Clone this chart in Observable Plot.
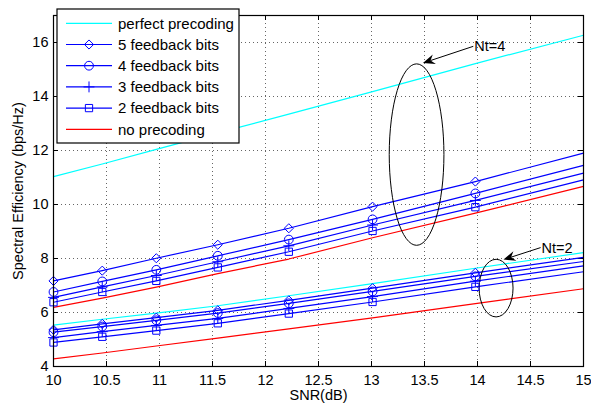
<!DOCTYPE html>
<html><head><meta charset="utf-8">
<script src="https://cdn.jsdelivr.net/npm/d3@7"></script>
<script src="https://cdn.jsdelivr.net/npm/@observablehq/plot@0.6"></script>
<style>
body{margin:0;background:#fff}
svg{font-family:"Liberation Sans",Arial,sans-serif}
</style>
</head><body><div id="chart"></div>
<script>
// ---- data ----
const snr = [10, 10.46, 10.97, 11.55, 12.22, 13.01, 13.98, 15];
const markerCount = 7; // markers drawn at the first 7 SNR points
const seriesNames = ["perfect precoding", "5 feedback bits", "4 feedback bits", "3 feedback bits", "2 feedback bits", "no precoding"];
const seriesColors = ["#00ffff", "#0000ff", "#0000ff", "#0000ff", "#0000ff", "#ff0000"];
const seriesSymbols = [null, "diamond2", "circle", "plus", "square", null];

// Nt = 4
const perfect4 = [11.03, 11.5, 12.04, 12.65, 13.35, 14.18, 15.22, 16.27];
const bits5_4  = [7.17, 7.55, 8.01, 8.51, 9.12, 9.92, 10.85, 11.9];
const bits4_4  = [6.76, 7.15, 7.58, 8.1, 8.7, 9.45, 10.41, 11.45];
const bits3_4  = [6.56, 6.95, 7.37, 7.88, 8.47, 9.24, 10.15, 11.16];
const bits2_4  = [6.38, 6.76, 7.17, 7.67, 8.25, 9.02, 9.9, 10.91];
const none4    = [6.19, 6.53, 6.94, 7.44, 7.98, 8.77, 9.68, 10.67];
// Nt = 2
const perfect2 = [5.53, 5.75, 5.98, 6.25, 6.62, 7.07, 7.64, 8.22];
const bits5_2  = [5.36, 5.58, 5.81, 6.08, 6.45, 6.9, 7.47, 8.04];
const bits4_2  = [5.27, 5.48, 5.71, 5.98, 6.34, 6.78, 7.34, 7.89];
const bits3_2  = [5.07, 5.29, 5.52, 5.78, 6.15, 6.59, 7.16, 7.73];
const bits2_2  = [4.89, 5.1, 5.33, 5.6, 5.96, 6.39, 6.95, 7.51];
const none2    = [4.28, 4.5, 4.76, 5.05, 5.39, 5.8, 6.33, 6.88];

const xTicks = [10, 10.5, 11, 11.5, 12, 12.5, 13, 13.5, 14, 14.5, 15];
const yTicks = [4, 6, 8, 10, 12, 14, 16];

// annotations (data coordinates)
const annLabels = ["Nt=4", "Nt=2"];
const annCx = [13.43, 14.18];
const annCy = [11.83, 6.885];
const annRx = [0.258, 0.16];
const annRy = [3.36, 1.067];
const arrowX1 = [13.965, 14.6];
const arrowY1 = [15.84, 8.385];
const arrowX2 = [13.49, 14.25];
const arrowY2 = [15.22, 7.94];

// ---- build rows ----
const groups = [
  [perfect4, bits5_4, bits4_4, bits3_4, bits2_4, none4],
  [perfect2, bits5_2, bits4_2, bits3_2, bits2_2, none2]
];
const rows = [];
groups.forEach((g, gi) => g.forEach((vals, si) => vals.forEach((v, i) => rows.push({
  key: gi + "-" + si, s: si, x: snr[i], y: v, idx: i
}))));

const W = 591, H = 403;
const mL = 53, mR = 8, mT = 15, mB = 37;
const frameH = H - mT - mB, frameW = W - mL - mR;
const FONT = 14.5;
const symR = s => s === "plus" ? 3.6 : s === "circle" ? 4.4 : 4.1;

const lineMarks = [];
for (let si = 0; si < 6; si++) {
  lineMarks.push(Plot.line(rows.filter(d => d.s === si), {x: "x", y: "y", z: "key", stroke: seriesColors[si], strokeWidth: 1.2}));
}
const dotMarks = [];
for (let si = 0; si < 6; si++) {
  if (!seriesSymbols[si]) continue;
  dotMarks.push(Plot.dot(rows.filter(d => d.s === si && d.idx < markerCount), {
    x: "x", y: "y", symbol: seriesSymbols[si], r: symR(seriesSymbols[si]),
    stroke: seriesColors[si], fill: "none", strokeWidth: 1
  }));
}

const annotations = (index, scales) => {
  const {x, y} = scales;
  const g = d3.create("svg:g");
  annLabels.forEach((lab, i) => {
    g.append("ellipse")
      .attr("cx", x(annCx[i])).attr("cy", y(annCy[i]))
      .attr("rx", x(annCx[i] + annRx[i]) - x(annCx[i]))
      .attr("ry", y(annCy[i] - annRy[i]) - y(annCy[i]))
      .attr("fill", "none").attr("stroke", "black").attr("stroke-width", 1);
    const sx = x(arrowX1[i]), sy = y(arrowY1[i]), tx = x(arrowX2[i]), ty = y(arrowY2[i]);
    const len = Math.hypot(tx - sx, ty - sy);
    const ux = (tx - sx) / len, uy = (ty - sy) / len, nx = -uy, ny = ux;
    const L = 12, Wd = 5, N = 8;
    g.append("line").attr("x1", sx).attr("y1", sy).attr("x2", tx - N * ux).attr("y2", ty - N * uy)
      .attr("stroke", "black").attr("stroke-width", 1);
    const pts = [[tx, ty], [tx - L * ux + Wd * nx, ty - L * uy + Wd * ny], [tx - N * ux, ty - N * uy], [tx - L * ux - Wd * nx, ty - L * uy - Wd * ny]];
    g.append("path").attr("d", "M" + pts.map(p => p.join(",")).join("L") + "Z").attr("fill", "black");
    g.append("text").attr("x", sx + 1).attr("y", sy).attr("dy", "0.35em")
      .attr("text-anchor", "start").style("text-anchor", "start")
      .attr("font-size", FONT).attr("fill", "black").text(lab);
  });
  return g.node();
};

const legend = () => {
  const g = d3.create("svg:g");
  const bx = 57, by = 9, bw = 182, bh = 134;
  g.append("rect").attr("x", bx).attr("y", by).attr("width", bw).attr("height", bh)
    .attr("fill", "white").attr("stroke", "black").attr("stroke-width", 1.2);
  seriesNames.forEach((name, i) => {
    const cy = 23.3 + i * 21.2;
    g.append("line").attr("x1", 66).attr("x2", 112).attr("y1", cy).attr("y2", cy)
      .attr("stroke", seriesColors[i]).attr("stroke-width", 1.2);
    if (seriesSymbols[i]) {
      const sym = {diamond2: d3.symbolDiamond2, circle: d3.symbolCircle, plus: d3.symbolPlus, square: d3.symbolSquare}[seriesSymbols[i]];
      const r = symR(seriesSymbols[i]);
      g.append("path").attr("d", d3.symbol(sym, Math.PI * r * r)())
        .attr("transform", `translate(89,${cy})`)
        .attr("fill", "none").attr("stroke", seriesColors[i]).attr("stroke-width", 1);
    }
    g.append("text").attr("x", 118).attr("y", cy).attr("dy", "0.35em")
      .attr("text-anchor", "start").style("text-anchor", "start")
      .attr("font-size", 15).attr("fill", "black").text(name);
  });
  return g.node();
};

const chart = Plot.plot({
  width: W, height: H,
  marginLeft: mL, marginRight: mR, marginTop: mT, marginBottom: mB,
  style: {fontFamily: '"Liberation Sans", Arial, sans-serif', fontSize: FONT + "px", background: "white", color: "black"},
  x: {domain: [10, 15]},
  y: {domain: [4, 17]},
  marks: [
    Plot.gridX(xTicks.slice(1, -1), {stroke: "black", strokeOpacity: 0.6, strokeDasharray: "1,3"}),
    Plot.gridY(yTicks.slice(1), {stroke: "black", strokeOpacity: 0.6, strokeDasharray: "1,3"}),
    Plot.axisX(xTicks, {tickSize: 0, tickPadding: 8, label: null, fontSize: FONT, tickFormat: d => String(d)}),
    Plot.axisY(yTicks, {tickSize: 0, tickPadding: 5, label: null, fontSize: FONT, tickFormat: d => String(d)}),
    Plot.tickX(xTicks, {x: d => d, insetTop: frameH - 5, stroke: "black"}),
    Plot.tickX(xTicks, {x: d => d, insetBottom: frameH - 5, stroke: "black"}),
    Plot.tickY(yTicks, {y: d => d, insetRight: frameW - 5, stroke: "black"}),
    Plot.tickY(yTicks, {y: d => d, insetLeft: frameW - 5, stroke: "black"}),
    ...lineMarks,
    annotations,
    ...dotMarks,
    Plot.frame({stroke: "black", strokeWidth: 1.2}),
    legend,
    Plot.text(["SNR(dB)"], {frameAnchor: "bottom", dy: 33, lineAnchor: "bottom", textAnchor: "middle", fontSize: FONT, fill: "black"}),
    Plot.text(["Spectral Efficiency (bps/Hz)"], {frameAnchor: "left", dx: -35, rotate: -90, textAnchor: "middle", fontSize: FONT, fill: "black"})
  ]
});
document.getElementById("chart").appendChild(chart);
</script>
</body></html>
